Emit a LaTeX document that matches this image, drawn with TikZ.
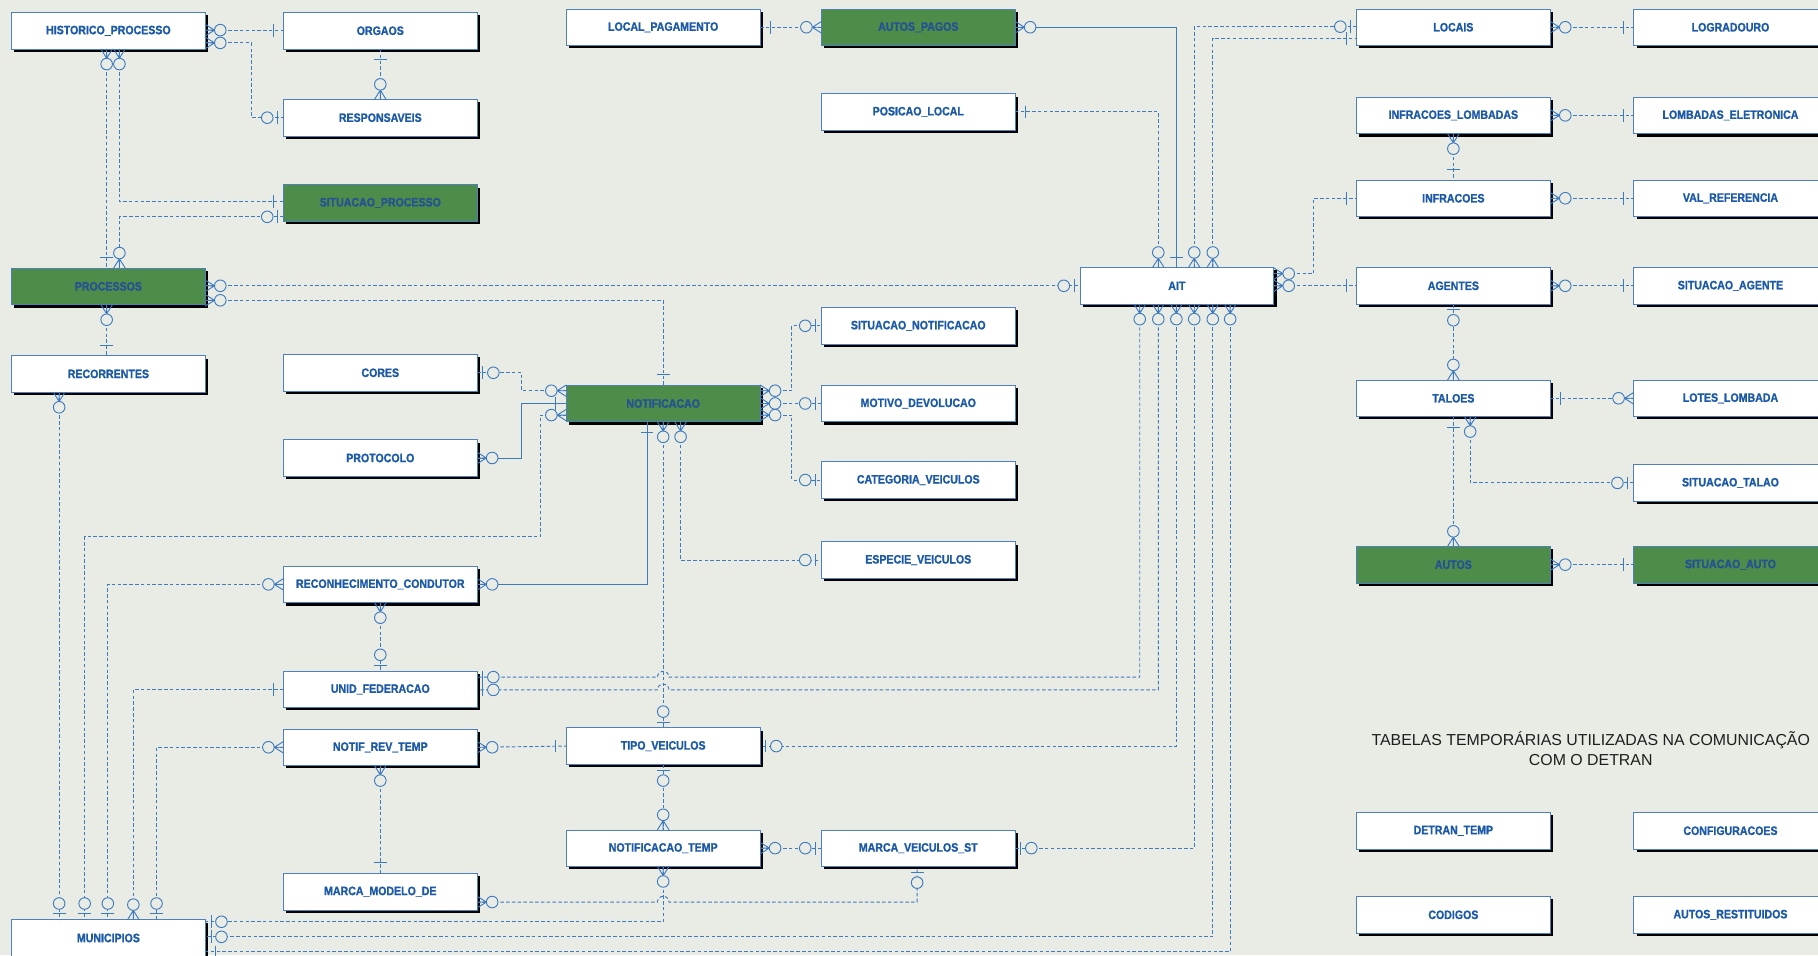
\documentclass[tikz,border=0pt]{standalone}
\usepackage{fontspec}
\usetikzlibrary{shadows,calc}
\newfontfamily\bxf{Liberation Sans Bold}[FakeStretch=0.87,FakeBold=1.2]
\newfontfamily\ttlf{Liberation Sans}
\definecolor{bg}{RGB}{232,236,229}
\definecolor{lnc}{RGB}{62,122,190}
\definecolor{txc}{RGB}{28,90,168}
\definecolor{gtx}{RGB}{36,82,148}
\definecolor{gfill}{RGB}{78,140,74}
\definecolor{bdr}{RGB}{80,128,185}
\definecolor{ttc}{RGB}{30,30,30}
\tikzset{
 ln/.style={draw=lnc,line width=0.8pt},
 dl/.style={ln,dash pattern=on 3pt off 2pt},
 sl/.style={ln},
 box/.style={draw=bdr,line width=0.6pt,fill=white,minimum width=167pt,minimum height=31.5pt,inner sep=0pt,outer sep=0pt,
   font=\bxf\fontsize{10.5}{12}\selectfont,text=txc,
   general shadow={fill=black,shadow xshift=2.5pt,shadow yshift=-2.5pt}},
 gbox/.style={box,fill=gfill,text=gtx},
 zm/.pic={\draw[ln] (0,5)--(8,0)--(0,-5) (0,0)--(8,0); \draw[ln,fill=bg] (13,0) circle[radius=5];},
 zo/.pic={\draw[ln] (5,-5.5)--(5,5.5); \draw[ln,fill=bg] (14,0) circle[radius=5];},
 one/.pic={\draw[ln] (9,-5.5)--(9,5.5);},
}
\newcommand\mk[3]{\path #2 pic[rotate=#3]{#1};}
\begin{document}
\begin{tikzpicture}[x=1pt,y=-1pt]
\useasboundingbox (0,0) rectangle (1568,824);
\clip (0,0) rectangle (1568,824);
\fill[bg] (0,0) rectangle (1568,824);
% column A
\node[box] (hist) at (93.5,26.5) {HISTORICO\_PROCESSO};
\node[gbox] (proc) at (93.5,247) {PROCESSOS};
\node[box] (recor) at (93.5,322.5) {RECORRENTES};
\node[box] (munic) at (93.5,809) {MUNICIPIOS};
% column B
\node[box] (orgaos) at (328,26.5) {ORGAOS};
\node[box] (resp) at (328,101.5) {RESPONSAVEIS};
\node[gbox] (sitp) at (328,175) {SITUACAO\_PROCESSO};
\node[box] (cores) at (328,321.5) {CORES};
\node[box] (protocolo) at (328,395) {PROTOCOLO};
\node[box] (recon) at (328,504) {RECONHECIMENTO\_CONDUTOR};
\node[box] (unid) at (328,594.5) {UNID\_FEDERACAO};
\node[box] (notifrev) at (328,644.5) {NOTIF\_REV\_TEMP};
\node[box] (marcamod) at (328,769) {MARCA\_MODELO\_DE};
% column C
\node[box] (localpag) at (572,23.5) {LOCAL\_PAGAMENTO};
\node[gbox] (notif) at (572,348) {NOTIFICACAO};
\node[box] (tipo) at (572,643.5) {TIPO\_VEICULOS};
\node[box] (notiftemp) at (572,731.5) {NOTIFICACAO\_TEMP};
% column D
\node[gbox] (autospagos) at (792,23.5) {AUTOS\_PAGOS};
\node[box] (posicao) at (792,96.5) {POSICAO\_LOCAL};
\node[box] (sitnotif) at (792,281) {SITUACAO\_NOTIFICACAO};
\node[box] (motivo) at (792,348) {MOTIVO\_DEVOLUCAO};
\node[box] (categoria) at (792,414) {CATEGORIA\_VEICULOS};
\node[box] (especie) at (792,483) {ESPECIE\_VEICULOS};
\node[box] (marcavst) at (792,731.5) {MARCA\_VEICULOS\_ST};
% AIT
\node[box] (ait) at (1015,246.5) {AIT};
% column E
\node[box] (locais) at (1253.5,23.5) {LOCAIS};
\node[box] (inflomb) at (1253.5,99.5) {INFRACOES\_LOMBADAS};
\node[box] (infr) at (1253.5,171) {INFRACOES};
\node[box] (agentes) at (1253.5,246.5) {AGENTES};
\node[box] (taloes) at (1253.5,343.5) {TALOES};
\node[gbox] (autos) at (1253.5,487) {AUTOS};
\node[box] (detran) at (1253.5,716.5) {DETRAN\_TEMP};
\node[box] (codigos) at (1253.5,789) {CODIGOS};
% column F
\node[box] (lograd) at (1492.5,23.5) {LOGRADOURO};
\node[box] (lombel) at (1492.5,99.5) {LOMBADAS\_ELETRONICA};
\node[box] (valref) at (1492.5,171) {VAL\_REFERENCIA};
\node[box] (sitag) at (1492.5,246.5) {SITUACAO\_AGENTE};
\node[box] (lotes) at (1492.5,343.5) {LOTES\_LOMBADA};
\node[box] (sittal) at (1492.5,416.5) {SITUACAO\_TALAO};
\node[gbox] (sitauto) at (1492.5,487) {SITUACAO\_AUTO};
\node[box] (config) at (1492.5,716.5) {CONFIGURACOES};
\node[box] (autosrest) at (1492.5,789) {AUTOS\_RESTITUIDOS};
% title
\node[font=\ttlf\fontsize{13.7}{17.5}\selectfont,align=center,text=ttc] (title) at (1372,645.5) {TABELAS TEMPORÁRIAS UTILIZADAS NA COMUNICAÇÃO\\COM O DETRAN};
% connectors
\draw[dl] (hist.east|-0,26) -- (orgaos.west|-0,26);
\draw[dl] (hist.east|-0,37) -| (217,101.5) -- (resp.west);
\draw[dl] (orgaos.south) -- (resp.north);
\draw[dl] (hist.south-|92,0) -- (proc.north-|92,0);
\draw[dl] (hist.south-|103,0) |- (sitp.west|-0,174);
\draw[dl] (sitp.west|-0,187) -| (proc.north-|103,0);
\draw[dl] (proc.east|-0,246.5) -- (ait.west);
\draw[dl] (proc.east|-0,259) -| (notif.north-|572,0);
\draw[dl] (proc.south-|92,0) -- (recor.north-|92,0);
\draw[dl] (recor.south-|51,0) -- (munic.north-|51,0);
\draw[dl] (notif.west|-0,358) -| (466,463) -| (munic.north-|73,0);
\draw[dl] (recon.west) -| (munic.north-|93,0);
\draw[dl] (unid.west) -| (munic.north-|115,0);
\draw[dl] (notifrev.west) -| (munic.north-|135,0);
\draw[dl] (cores.east) -| (450,337) -- (notif.west|-0,337);
\draw[sl] (protocolo.east) -| (450,348) -- (notif.west|-0,348);
\draw[sl] (recon.east) -| (notif.south-|558,0);
\draw[dl] (notif.east|-0,337) -| (683,281) -- (sitnotif.west);
\draw[dl] (notif.east|-0,348) -- (motivo.west);
\draw[dl] (notif.east|-0,358) -| (683,414) -- (categoria.west);
\draw[dl] (notif.south-|572,0) -- (tipo.north);
\draw[dl] (notif.south-|587,0) |- (especie.west);
\draw[dl] (recon.south) -- (unid.north);
\draw[dl] (notifrev.east) -- (tipo.west);
\draw[dl] (notifrev.south) -- (marcamod.north);
\draw[dl] (tipo.south) -- (notiftemp.north);
\draw[dl] (notiftemp.east) -- (marcavst.west);
\draw[dl] (marcamod.east|-0,778) -- (567,778) arc[start angle=180,end angle=360,radius=5] -| (marcavst.south-|791,0);
\draw[dl] (notiftemp.south) |- (munic.east|-0,795);
\draw[dl] (ait.south-|983,0) |- (577,584) arc[start angle=0,end angle=-180,radius=5] -- (unid.east|-0,584);
\draw[dl] (ait.south-|999,0) |- (577,595) arc[start angle=0,end angle=-180,radius=5] -- (unid.east|-0,595);
\draw[dl] (ait.south-|1014.6,0) |- (tipo.east);
\draw[dl] (ait.south-|1030,0) |- (marcavst.east);
\draw[dl] (ait.south-|1046,0) |- (munic.east|-0,808);
\draw[dl] (ait.south-|1061,0) |- (munic.east|-0,821);
\draw[dl] (ait.north-|999,0) |- (posicao.east);
\draw[sl] (autospagos.east) -| (ait.north-|1014.6,0);
\draw[dl] (ait.north-|1030,0) |- (locais.west|-0,23);
\draw[dl] (ait.north-|1046,0) |- (locais.west|-0,33);
\draw[dl] (ait.east|-0,236) -| (1133,171) -- (infr.west);
\draw[dl] (ait.east) -- (agentes.west);
\draw[dl] (locais.east) -- (lograd.west);
\draw[dl] (inflomb.east) -- (lombel.west);
\draw[dl] (infr.east) -- (valref.west);
\draw[dl] (agentes.east) -- (sitag.west);
\draw[dl] (taloes.east) -- (lotes.west);
\draw[dl] (autos.east) -- (sitauto.west);
\draw[dl] (inflomb.south) -- (infr.north);
\draw[dl] (agentes.south) -- (taloes.north);
\draw[dl] (taloes.south) -- (autos.north);
\draw[dl] (taloes.south-|1268,0) |- (sittal.west);
\draw[dl] (localpag.east) -- (autospagos.west);
% end markers
\mk{zm}{(hist.east|-0,26)}{0}
\mk{one}{(orgaos.west|-0,26)}{180}
\mk{zm}{(hist.east|-0,37)}{0}
\mk{zo}{(resp.west)}{180}
\mk{one}{(orgaos.south)}{270}
\mk{zm}{(resp.north)}{90}
\mk{zm}{(hist.south-|92,0)}{270}
\mk{one}{(proc.north-|92,0)}{90}
\mk{zm}{(hist.south-|103,0)}{270}
\mk{one}{(sitp.west|-0,174)}{180}
\mk{zo}{(sitp.west|-0,187)}{180}
\mk{zm}{(proc.north-|103,0)}{90}
\mk{zm}{(proc.east|-0,246.5)}{0}
\mk{zo}{(ait.west)}{180}
\mk{zm}{(proc.east|-0,259)}{0}
\mk{one}{(notif.north-|572,0)}{90}
\mk{zm}{(proc.south-|92,0)}{270}
\mk{one}{(recor.north-|92,0)}{90}
\mk{zm}{(recor.south-|51,0)}{270}
\mk{zo}{(munic.north-|51,0)}{90}
\mk{zm}{(notif.west|-0,358)}{180}
\mk{zo}{(munic.north-|73,0)}{90}
\mk{zm}{(recon.west)}{180}
\mk{zo}{(munic.north-|93,0)}{90}
\mk{one}{(unid.west)}{180}
\mk{zm}{(munic.north-|115,0)}{90}
\mk{zm}{(notifrev.west)}{180}
\mk{zo}{(munic.north-|135,0)}{90}
\mk{zo}{(cores.east)}{0}
\mk{zm}{(notif.west|-0,337)}{180}
\mk{zm}{(protocolo.east)}{0}
\mk{one}{(notif.west|-0,348)}{180}
\mk{zm}{(recon.east)}{0}
\mk{one}{(notif.south-|558,0)}{270}
\mk{zm}{(notif.east|-0,337)}{0}
\mk{zo}{(sitnotif.west)}{180}
\mk{zm}{(notif.east|-0,348)}{0}
\mk{zo}{(motivo.west)}{180}
\mk{zm}{(notif.east|-0,358)}{0}
\mk{zo}{(categoria.west)}{180}
\mk{zm}{(notif.south-|572,0)}{270}
\mk{zo}{(tipo.north)}{90}
\mk{zm}{(notif.south-|587,0)}{270}
\mk{zo}{(especie.west)}{180}
\mk{zm}{(recon.south)}{270}
\mk{zo}{(unid.north)}{90}
\mk{zm}{(notifrev.east)}{0}
\mk{one}{(tipo.west)}{180}
\mk{zm}{(notifrev.south)}{270}
\mk{one}{(marcamod.north)}{90}
\mk{zo}{(tipo.south)}{270}
\mk{zm}{(notiftemp.north)}{90}
\mk{zm}{(notiftemp.east)}{0}
\mk{zo}{(marcavst.west)}{180}
\mk{zm}{(marcamod.east|-0,778)}{0}
\mk{zo}{(marcavst.south-|791,0)}{270}
\mk{zm}{(notiftemp.south)}{270}
\mk{zo}{(munic.east|-0,795)}{0}
\mk{zm}{(ait.south-|983,0)}{270}
\mk{zm}{(ait.south-|999,0)}{270}
\mk{zm}{(ait.south-|1014.6,0)}{270}
\mk{zm}{(ait.south-|1030,0)}{270}
\mk{zm}{(ait.south-|1046,0)}{270}
\mk{zm}{(ait.south-|1061,0)}{270}
\mk{zo}{(unid.east|-0,584)}{0}
\mk{zo}{(unid.east|-0,595)}{0}
\mk{zo}{(tipo.east)}{0}
\mk{zo}{(marcavst.east)}{0}
\mk{zo}{(munic.east|-0,808)}{0}
\mk{one}{(munic.east|-0,821)}{0}
\mk{zm}{(ait.north-|999,0)}{90}
\mk{one}{(ait.north-|1014.6,0)}{90}
\mk{zm}{(ait.north-|1030,0)}{90}
\mk{zm}{(ait.north-|1046,0)}{90}
\mk{one}{(posicao.east)}{0}
\mk{zm}{(autospagos.east)}{0}
\mk{zo}{(locais.west|-0,23)}{180}
\mk{one}{(locais.west|-0,33)}{180}
\mk{zm}{(ait.east|-0,236)}{0}
\mk{one}{(infr.west)}{180}
\mk{zm}{(ait.east)}{0}
\mk{one}{(agentes.west)}{180}
\mk{zm}{(locais.east)}{0}
\mk{one}{(lograd.west)}{180}
\mk{zm}{(inflomb.east)}{0}
\mk{one}{(lombel.west)}{180}
\mk{zm}{(infr.east)}{0}
\mk{one}{(valref.west)}{180}
\mk{zm}{(agentes.east)}{0}
\mk{one}{(sitag.west)}{180}
\mk{one}{(taloes.east)}{0}
\mk{zm}{(lotes.west)}{180}
\mk{zm}{(autos.east)}{0}
\mk{one}{(sitauto.west)}{180}
\mk{zm}{(inflomb.south)}{270}
\mk{one}{(infr.north)}{90}
\mk{zo}{(agentes.south)}{270}
\mk{zm}{(taloes.north)}{90}
\mk{one}{(taloes.south)}{270}
\mk{zm}{(autos.north)}{90}
\mk{zm}{(taloes.south-|1268,0)}{270}
\mk{zo}{(sittal.west)}{180}
\mk{one}{(localpag.east)}{0}
\mk{zm}{(autospagos.west)}{180}
\end{tikzpicture}
\end{document}
